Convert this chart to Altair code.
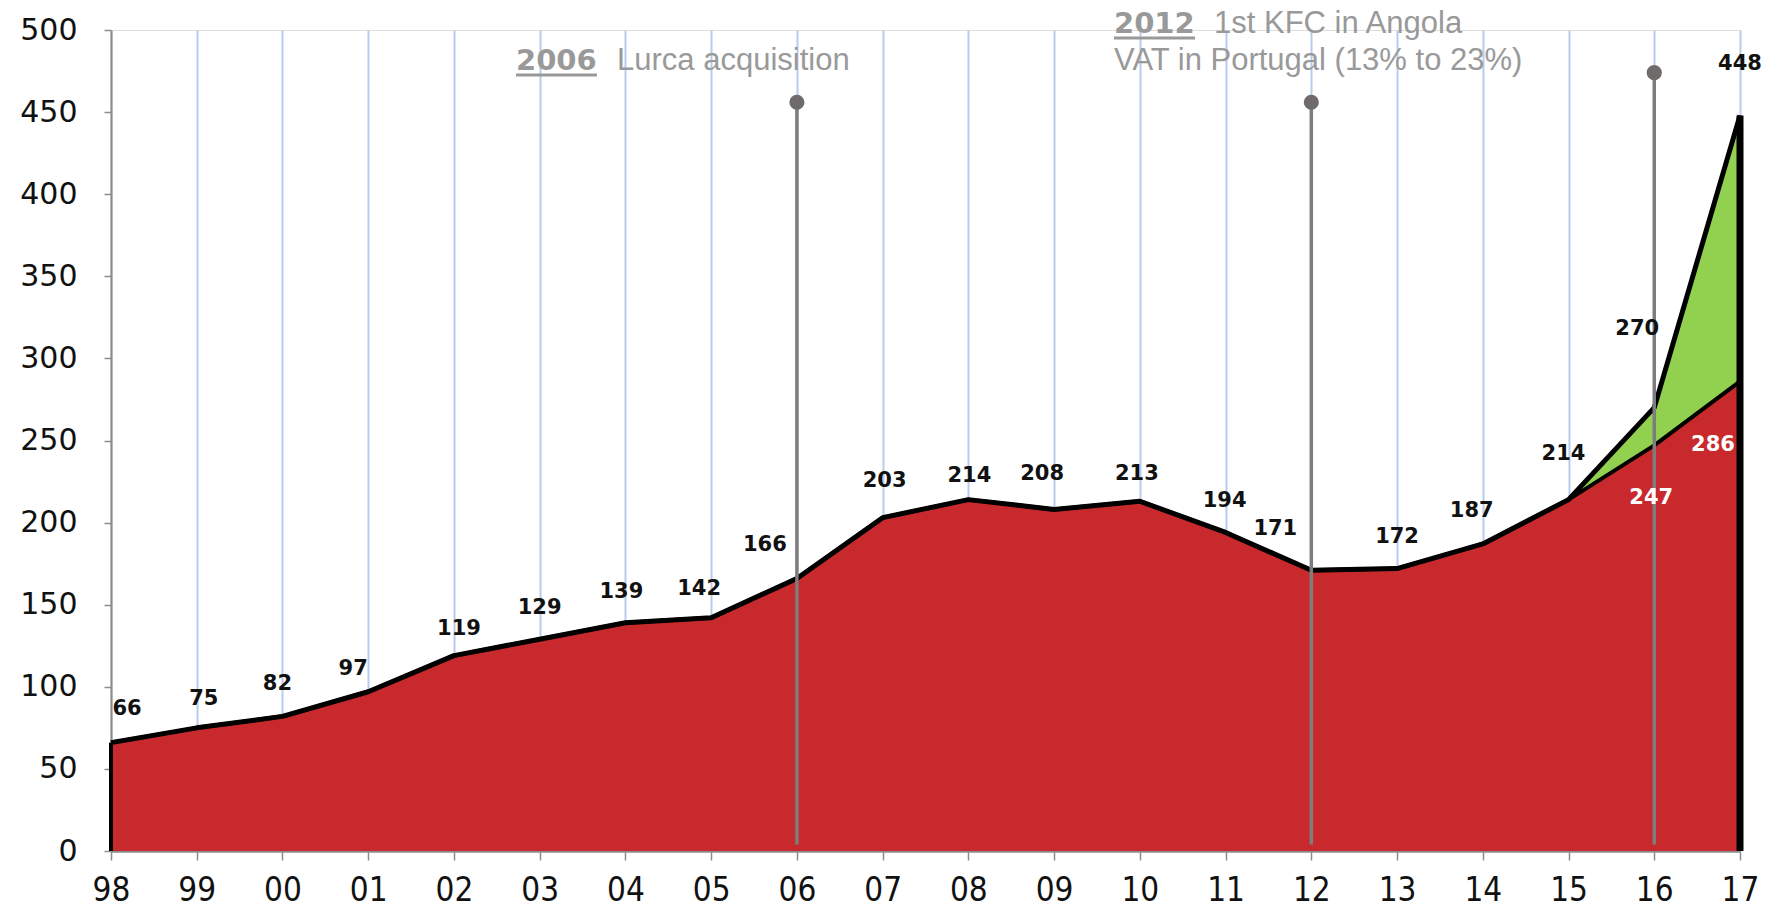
import altair as alt
import pandas as pd

# ---- data ----
years = ["98", "99", "00", "01", "02", "03", "04", "05", "06", "07",
         "08", "09", "10", "11", "12", "13", "14", "15", "16", "17"]
base = [66, 75, 82, 97, 119, 129, 139, 142, 166, 203,
        214, 208, 213, 194, 171, 172, 187, 214, 247, 286]
total = [66, 75, 82, 97, 119, 129, 139, 142, 166, 203,
         214, 208, 213, 194, 171, 172, 187, 214, 270, 448]
inner_label_years = ["16", "17"]

event_years = ["06", "12", "16"]
event_tops = [456, 456, 474]

ann_years = ["2006", "2012"]
ann_lines = ["Lurca acquisition", "1st KFC in Angola", "VAT in Portugal (13% to 23%)"]

y_ticks = [0, 50, 100, 150, 200, 250, 300, 350, 400, 450, 500]

df = pd.DataFrame({"year": years, "base": base, "total": total})
ev = pd.DataFrame({"year": event_years, "top": event_tops})
one = pd.DataFrame({"a": [0]})

W, H = 1629, 821
RED = "#c8292d"
GREEN = "#92d050"
AXIS_GRAY = "#8c8c8c"
ANN_GRAY = "#999999"

x_enc = alt.X("year:O",
              scale=alt.Scale(domain=years, type="point", padding=0),
              axis=alt.Axis(grid=True, gridColor="#b9cbec", gridWidth=2,
                            domainColor=AXIS_GRAY, domainWidth=2.5,
                            tickColor=AXIS_GRAY, tickSize=9, tickWidth=1.5,
                            labelFont="'Liberation Sans Narrow', 'DejaVu Sans Condensed', sans-serif",
                            labelFontSize=33, labelColor="#111111",
                            labelPadding=14, labelAngle=0, title=None))
y_scale = alt.Scale(domain=[0, 500], nice=False, zero=True)
y_axis = alt.Axis(values=y_ticks, grid=False, domainColor=AXIS_GRAY, domainWidth=2,
                  tickColor=AXIS_GRAY, tickSize=7, tickWidth=1.5,
                  labelFont="DejaVu Sans", labelFontSize=30, labelColor="#111111",
                  labelPadding=27, title=None)

basec = alt.Chart(df)
xo = alt.X("year:O")

green_area = basec.mark_area(color=GREEN, opacity=1).encode(
    x=x_enc, y=alt.Y("total:Q", scale=y_scale, axis=y_axis))
red_area = basec.mark_area(color=RED, opacity=1).encode(x=xo, y=alt.Y("base:Q"))
top_line = basec.mark_line(color="black", strokeWidth=5, strokeJoin="round").encode(
    x=xo, y=alt.Y("total:Q"))
base_line = basec.mark_line(color="black", strokeWidth=4, strokeJoin="round").encode(
    x=xo, y=alt.Y("base:Q"))
left_edge = basec.transform_filter(alt.datum.year == years[0]).transform_calculate(
    zero="0").mark_rule(color="black", strokeWidth=4).encode(
    x=xo, y=alt.Y("zero:Q"), y2="total:Q")
right_edge = basec.transform_filter(alt.datum.year == years[-1]).transform_calculate(
    zero="0").mark_rule(color="black", strokeWidth=7).encode(
    x=xo, y=alt.Y("zero:Q"), y2="total:Q")

# event markers
ev_rules = alt.Chart(ev).transform_calculate(low="4").mark_rule(
    color="#7d7d7d", strokeWidth=3.5).encode(x=xo, y=alt.Y("low:Q"), y2="top:Q")
ev_dots = alt.Chart(ev).mark_point(filled=True, color="#6f6b6b", size=230, opacity=1).encode(
    x=xo, y=alt.Y("top:Q"))

# value labels (offsets in px relative to each point)
label_offsets = {
    "98": (16, -34), "99": (7, -29), "00": (-5, -32), "01": (-15, -23),
    "02": (5, -27), "03": (0, -31), "04": (-4, -31), "05": (-12, -29),
    "06": (-32, -33), "07": (2, -37), "08": (1, -24), "09": (-12, -35),
    "10": (-3, -27), "11": (-1, -31), "12": (-36, -41), "13": (0, -32),
    "14": (-11, -33), "15": (-5, -46), "16": (-17, -79), "17": (0, -51),
}
inner_offsets = {"16": (-3, 53), "17": (-27, 64)}

label_layers = []
for yr, (dx, dy) in label_offsets.items():
    label_layers.append(
        basec.transform_filter(alt.datum.year == yr).mark_text(
            font="DejaVu Sans", fontWeight="bold", fontSize=21, color="#111111",
            dx=dx, dy=dy, baseline="middle", align="center").encode(
            x=xo, y=alt.Y("total:Q"), text=alt.Text("total:Q")))
for yr in inner_label_years:
    dx, dy = inner_offsets[yr]
    label_layers.append(
        basec.transform_filter(alt.datum.year == yr).mark_text(
            font="DejaVu Sans", fontWeight="bold", fontSize=21, color="white",
            dx=dx, dy=dy, baseline="middle", align="center").encode(
            x=xo, y=alt.Y("base:Q"), text=alt.Text("base:Q")))

# annotations
def ann_text(txt, x, y, bold=False):
    return alt.Chart(one).mark_text(
        text=txt, align="left", baseline="alphabetic",
        font="DejaVu Sans" if bold else "Liberation Sans",
        fontWeight="bold" if bold else "normal",
        fontSize=29 if bold else 31, color=ANN_GRAY).encode(
        x=alt.value(x), y=alt.value(y))

def underline(x1, x2, y):
    return alt.Chart(one).mark_rule(color=ANN_GRAY, strokeWidth=3).encode(
        x=alt.value(x1), x2=alt.value(x2), y=alt.value(y))

annotations = [
    ann_text(ann_years[0], 405, 40, bold=True),
    underline(405, 486, 45),
    ann_text(ann_lines[0], 506, 40),
    ann_text(ann_years[1], 1003, 3, bold=True),
    underline(1003, 1084, 8),
    ann_text(ann_lines[1], 1103, 3),
    ann_text(ann_lines[2], 1003, 40),
]

chart = alt.layer(
    green_area, red_area, top_line, base_line, left_edge, right_edge,
    ev_rules, ev_dots, *label_layers, *annotations
).properties(
    width=W, height=H,
    autosize=alt.AutoSizeParams(type="none"),
    padding={"left": 103, "top": 22, "right": 26, "bottom": 70},
).configure_view(stroke=None).configure(background="white")

chart.save("out.html", embed_options={"renderer": "svg", "actions": False})
